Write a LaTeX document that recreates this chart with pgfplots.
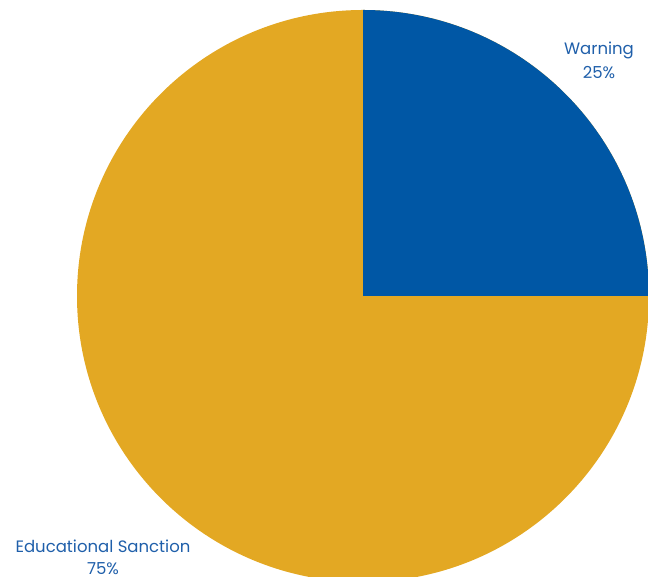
\documentclass[border=0pt]{standalone}
\usepackage{pgfplots}
\pgfplotsset{compat=1.18}
\usepackage{pgfplotstable}
\usepackage{fontspec}
\setmainfont{Poppins}
\definecolor{blueslice}{HTML}{0057A5}
\definecolor{goldslice}{HTML}{E3A823}
\definecolor{labelblue}{HTML}{1F5FAA}
\pgfplotstableread{
label value
Warning 25
Educational 75
}\piedata
\pgfplotstablegetelem{0}{value}\of\piedata \let\valA\pgfplotsretval
\pgfplotstablegetelem{1}{value}\of\piedata \let\valB\pgfplotsretval
\pgfmathsetmacro{\fracA}{\valA/(\valA+\valB)}
\pgfmathsetmacro{\fracB}{\valB/(\valA+\valB)}
\pgfmathsetmacro{\angA}{90-360*\fracA}
\pgfmathsetmacro{\angB}{\angA-360*\fracB}
\begin{document}
\begin{tikzpicture}
\begin{axis}[
  x=1pt, y=1pt,
  xmin=0, xmax=648, ymin=0, ymax=577,
  hide axis, clip=true,
  anchor=origin, at={(0,0)},
]
% pie centre (363,281) radius 286 in pixel units
\fill[goldslice] (axis cs:363,281) -- (axis cs:363,567) arc[start angle=90, end angle=\angB, radius=286pt] -- cycle;
\fill[blueslice] (axis cs:363,281) -- (axis cs:363,567) arc[start angle=90, end angle=\angA, radius=286pt] -- cycle;
\node[labelblue, font=\fontsize{16.5pt}{24pt}\selectfont, align=center, inner sep=0pt] at (axis cs:599,517) {Warning\\25\%};
\node[labelblue, font=\fontsize{16.5pt}{22pt}\selectfont, align=center, inner sep=0pt] at (axis cs:103,20) {Educational Sanction\\75\%};
\end{axis}
\pgfresetboundingbox
\useasboundingbox (0,0) rectangle (648pt,577pt);
\end{tikzpicture}
\end{document}
